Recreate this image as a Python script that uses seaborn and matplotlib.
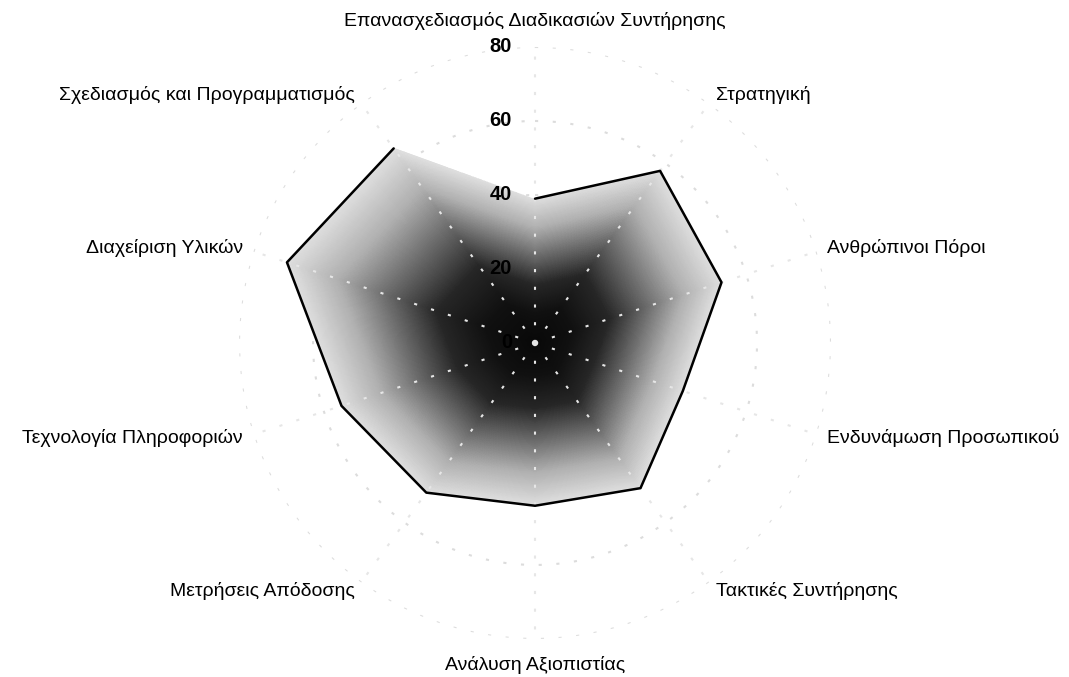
import numpy as np
import matplotlib
matplotlib.use("Agg")
import matplotlib.pyplot as plt
import seaborn as sns
from matplotlib.colors import LinearSegmentedColormap

# Δεδομένα
categories = ["Επανασχεδιασμός Διαδικασιών Συντήρησης", "Στρατηγική", "Ανθρώπινοι Πόροι",
              "Ενδυνάμωση Προσωπικού", "Τακτικές Συντήρησης", "Ανάλυση Αξιοπιστίας",
              "Μετρήσεις Απόδοσης", "Τεχνολογία Πληροφοριών", "Διαχείριση Υλικών",
              "Σχεδιασμός και Προγραμματισμός"]
scores = [39, 57.5, 53, 42, 48.5, 44, 50, 55, 70.5, 65]
r_ticks = [0, 20, 40, 60, 80]

sns.set_theme(style="white")
plt.rcParams["font.family"] = ["Liberation Sans", "DejaVu Sans"]
plt.rcParams["text.color"] = "black"

n = len(categories)
step = 2 * np.pi / n
angles = np.arange(n) * step
theta_closed = np.append(angles, angles[0])
r_closed = np.append(scores, scores[0])

fig = plt.figure(figsize=(10.69, 6.77), dpi=100)
ax = fig.add_axes([0.2236, 0.0562, 0.5538, 0.8744], projection="polar")
ax.set_theta_zero_location("N")
ax.set_theta_direction(-1)
ax.set_ylim(0, 80)

# πολύγωνο ως clip path για το gradient
poly = ax.fill(theta_closed, r_closed, facecolor="none", edgecolor="none", zorder=1)[0]

# gradient σχετικό με το σχήμα (από το κέντρο προς την περίμετρο)
tg = np.linspace(0, 2 * np.pi, 721)
rg = np.linspace(0, 80, 321)
tc = (tg[:-1] + tg[1:]) / 2
rc = (rg[:-1] + rg[1:]) / 2
px = r_closed * np.cos(theta_closed)
py = r_closed * np.sin(theta_closed)
k = np.minimum((tc // step).astype(int), n - 1)
x1, y1, x2, y2 = px[k], py[k], px[k + 1], py[k + 1]
dx, dy = x2 - x1, y2 - y1
r_edge = (x1 * dy - y1 * dx) / (np.cos(tc) * dy - np.sin(tc) * dx)
frac = rc[:, None] / r_edge[None, :]

cmap = LinearSegmentedColormap.from_list(
    "fade", ["#080808", "#101010", "#262626", "#6a6a6a", "#b0b0b0", "#dedede"])
mesh = ax.pcolormesh(tg, rg, frac, cmap=cmap, vmin=0, vmax=1, shading="flat",
                     zorder=1, rasterized=True)
mesh.set_clip_path(poly)

# περίγραμμα
sns.lineplot(x=theta_closed, y=r_closed, ax=ax, sort=False, color="black",
             linewidth=1.8, zorder=3)

# πλέγμα: ακτίνες πάνω από το γέμισμα, κύκλοι από κάτω
ax.set_xticks(angles)
ax.set_xticklabels([])
ax.set_yticks(r_ticks)
ax.set_yticklabels([])
ax.set_axisbelow(False)
ax.xaxis.grid(True, color="#e6e6e6", linestyle=(0, (1.5, 7)), linewidth=1.5)
ax.yaxis.grid(False)
ring_t = np.linspace(0, 2 * np.pi, 400)
for t in r_ticks[1:]:
    ax.plot(ring_t, np.full_like(ring_t, t), color="#dcdcdc",
            linestyle=(0, (1.5, 7)), linewidth=1.5, zorder=0.5)
ax.spines["polar"].set_visible(False)
ax.tick_params(length=0)

# ετικέτες κατηγοριών
for ang, lab in zip(angles, categories):
    deg = np.degrees(ang)
    if np.isclose(deg, 0) or np.isclose(deg, 180):
        ax.text(ang, 87, lab, ha="center", va="center", fontsize=14, color="black")
    elif deg < 180:
        ax.text(ang, 83, lab, ha="left", va="center", fontsize=14, color="black")
    else:
        ax.text(ang, 83, lab, ha="right", va="center", fontsize=14, color="black")

# ετικέτες κλίμακας
for t in r_ticks:
    ax.annotate(str(t), xy=(0, t), xytext=(-16.5, 0), textcoords="offset points",
                ha="right", va="center", fontsize=14.5, fontweight="bold",
                color="black", zorder=4)

fig.savefig("out.png", dpi=100)
